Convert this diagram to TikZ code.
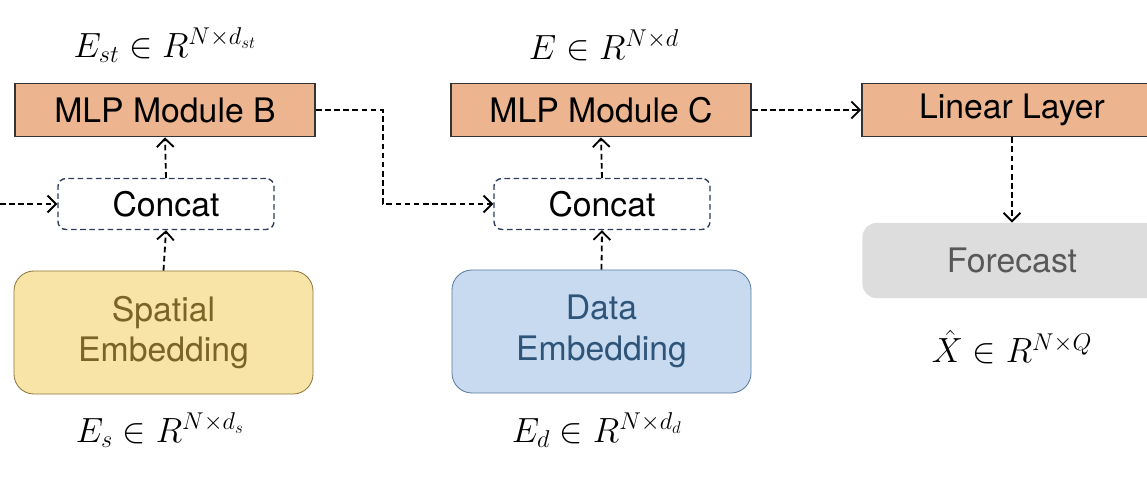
\documentclass[tikz,border=0pt]{standalone}
\usepackage{amsmath,amssymb}
\usepackage{xcolor}
\usepackage{fontspec}
\setmainfont{TeX Gyre Heros}
\usetikzlibrary{shapes,arrows,positioning,calc,arrows.meta}
\definecolor{mlpfill}{RGB}{236,181,143}
\definecolor{spfill}{RGB}{249,228,167}
\definecolor{spdraw}{RGB}{140,120,60}
\definecolor{sptext}{RGB}{122,100,38}
\definecolor{datafill}{RGB}{199,218,239}
\definecolor{datadraw}{RGB}{90,125,160}
\definecolor{datatext}{RGB}{46,84,121}
\definecolor{fcfill}{RGB}{221,221,221}
\definecolor{fctext}{RGB}{88,88,88}
\definecolor{catdraw}{RGB}{45,60,90}
\tikzset{
    mlpbox/.style={draw=black!80, line width=1.2pt, fill=mlpfill, minimum width=7.5cm, minimum height=1.325cm, font=\fontsize{24}{28}\selectfont},
    catbox/.style={draw=catdraw, line width=1pt, dash pattern=on 4pt off 2.5pt, rounded corners=0.2cm, minimum width=5.4cm, minimum height=1.275cm, font=\fontsize{24}{28}\selectfont},
    embbox/.style={line width=0.6pt, rounded corners=0.5cm, minimum width=7.475cm, minimum height=3.075cm, align=center, font=\fontsize{24}{29}\selectfont},
    flow/.style={line width=1.3pt, dash pattern=on 4pt off 2.5pt, -{Straight Barb[length=6pt,width=12pt]}},
    mathlbl/.style={font=\fontsize{24}{28}\selectfont}
}
\begin{document}
\begin{tikzpicture}[x=0.025cm, y=-0.025cm]
    \useasboundingbox (0,0) rectangle (1147,488);
    \node[mlpbox] (mlpB) at (165,110) {MLP Module B};
    \node[catbox] (catA) at (166,204) {Concat};
    \node[embbox, draw=spdraw, fill=spfill, text=sptext] (spatial) at (163.5,332.5) {Spatial\\Embedding};
    \node[mlpbox] (mlpC) at (601,110) {MLP Module C};
    \node[catbox] (catB) at (602,204) {Concat};
    \node[embbox, draw=datadraw, fill=datafill, text=datatext] (data) at (601.5,331.5) {Data\\Embedding};
    \node[mlpbox] (linear) at (1012,110) {Linear Layer};
    \node[embbox, fill=fcfill, text=fctext, minimum height=1.875cm, rounded corners=0.35cm] (fcast) at (1012,260.5) {Forecast};
    \foreach \x/\y/\n/\t in {165/45/lblB/{E_{st} \in R^{N\times d_{st}}}, 604/45/lblC/{E \in R^{N\times d}}, 160/430/lblS/{E_{s} \in R^{N\times d_{s}}}, 597/430/lblD/{E_{d} \in R^{N\times d_{d}}}, 1012/347/lblX/{\hat{X} \in R^{N\times Q}}}
        \node[mathlbl] (\n) at (\x,\y) {$\t$};
    \coordinate (inA) at (0,204);
    \draw[flow] (inA) -- (catA.west);
    \draw[flow] (spatial.north) -- (catA.south);
    \draw[flow] (catA.north) -- (mlpB.south);
    \draw[flow] (mlpB.east) -- ++(67,0) |- (catB.west);
    \draw[flow] (data.north) -- (catB.south);
    \draw[flow] (catB.north) -- (mlpC.south);
    \draw[flow] (mlpC.east) -- (linear.west);
    \draw[flow] (linear.south) -- (fcast.north);
\end{tikzpicture}
\end{document}
